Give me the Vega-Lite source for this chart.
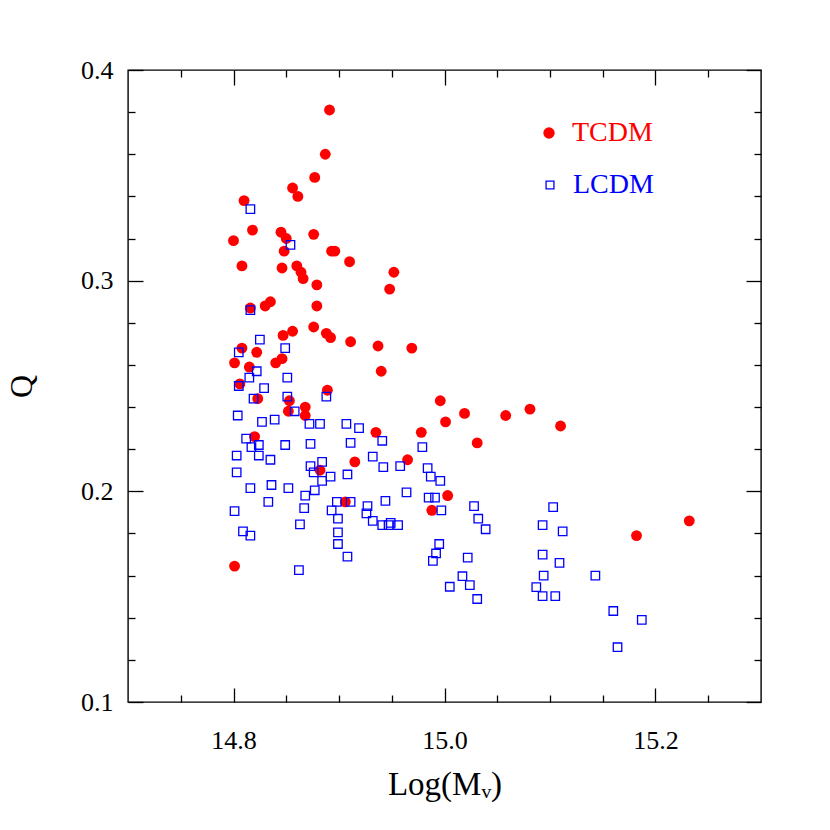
{
  "$schema": "https://vega.github.io/schema/vega-lite/v6.json",
  "width": 633,
  "height": 632,
  "autosize": "none",
  "padding": {"left": 128, "top": 70, "right": 69, "bottom": 128},
  "background": "white",
  "config": {
    "view": {"stroke": "black", "strokeWidth": 1.4},
    "axis": {"domain": false, "grid": false, "tickColor": "black", "tickWidth": 1.3, "labelFont": "Liberation Serif", "labelFontSize": 26, "labelColor": "black", "titleFont": "Liberation Serif", "titleColor": "black", "titleFontWeight": "normal"},
    "legend": {"orient": "none", "title": null, "labelFont": "Liberation Serif", "labelFontSize": 28, "labelOffset": 9, "symbolStrokeWidth": 1.3}
  },
  "data": {"values": [
    {"m": 14.891, "q": 0.381, "model": "TCDM"},
    {"m": 14.887, "q": 0.360, "model": "TCDM"},
    {"m": 14.877, "q": 0.349, "model": "TCDM"},
    {"m": 14.856, "q": 0.344, "model": "TCDM"},
    {"m": 14.861, "q": 0.340, "model": "TCDM"},
    {"m": 14.810, "q": 0.338, "model": "TCDM"},
    {"m": 14.818, "q": 0.324, "model": "TCDM"},
    {"m": 14.845, "q": 0.323, "model": "TCDM"},
    {"m": 14.850, "q": 0.320, "model": "TCDM"},
    {"m": 14.876, "q": 0.322, "model": "TCDM"},
    {"m": 14.800, "q": 0.319, "model": "TCDM"},
    {"m": 14.848, "q": 0.314, "model": "TCDM"},
    {"m": 14.893, "q": 0.314, "model": "TCDM"},
    {"m": 14.896, "q": 0.314, "model": "TCDM"},
    {"m": 14.910, "q": 0.309, "model": "TCDM"},
    {"m": 14.808, "q": 0.307, "model": "TCDM"},
    {"m": 14.846, "q": 0.306, "model": "TCDM"},
    {"m": 14.860, "q": 0.307, "model": "TCDM"},
    {"m": 14.864, "q": 0.304, "model": "TCDM"},
    {"m": 14.866, "q": 0.301, "model": "TCDM"},
    {"m": 14.879, "q": 0.298, "model": "TCDM"},
    {"m": 14.952, "q": 0.304, "model": "TCDM"},
    {"m": 14.948, "q": 0.296, "model": "TCDM"},
    {"m": 14.816, "q": 0.287, "model": "TCDM"},
    {"m": 14.830, "q": 0.288, "model": "TCDM"},
    {"m": 14.835, "q": 0.290, "model": "TCDM"},
    {"m": 14.879, "q": 0.288, "model": "TCDM"},
    {"m": 14.876, "q": 0.278, "model": "TCDM"},
    {"m": 14.888, "q": 0.275, "model": "TCDM"},
    {"m": 14.892, "q": 0.273, "model": "TCDM"},
    {"m": 14.911, "q": 0.271, "model": "TCDM"},
    {"m": 14.847, "q": 0.274, "model": "TCDM"},
    {"m": 14.856, "q": 0.276, "model": "TCDM"},
    {"m": 14.808, "q": 0.268, "model": "TCDM"},
    {"m": 14.822, "q": 0.266, "model": "TCDM"},
    {"m": 14.801, "q": 0.261, "model": "TCDM"},
    {"m": 14.815, "q": 0.259, "model": "TCDM"},
    {"m": 14.840, "q": 0.261, "model": "TCDM"},
    {"m": 14.846, "q": 0.263, "model": "TCDM"},
    {"m": 14.806, "q": 0.251, "model": "TCDM"},
    {"m": 14.889, "q": 0.248, "model": "TCDM"},
    {"m": 14.823, "q": 0.244, "model": "TCDM"},
    {"m": 14.853, "q": 0.243, "model": "TCDM"},
    {"m": 14.868, "q": 0.240, "model": "TCDM"},
    {"m": 14.852, "q": 0.238, "model": "TCDM"},
    {"m": 14.868, "q": 0.236, "model": "TCDM"},
    {"m": 14.820, "q": 0.226, "model": "TCDM"},
    {"m": 14.882, "q": 0.210, "model": "TCDM"},
    {"m": 14.906, "q": 0.195, "model": "TCDM"},
    {"m": 14.801, "q": 0.1645, "model": "TCDM"},
    {"m": 14.937, "q": 0.269, "model": "TCDM"},
    {"m": 14.969, "q": 0.268, "model": "TCDM"},
    {"m": 14.940, "q": 0.257, "model": "TCDM"},
    {"m": 14.996, "q": 0.243, "model": "TCDM"},
    {"m": 15.019, "q": 0.237, "model": "TCDM"},
    {"m": 15.058, "q": 0.236, "model": "TCDM"},
    {"m": 15.081, "q": 0.239, "model": "TCDM"},
    {"m": 15.110, "q": 0.231, "model": "TCDM"},
    {"m": 15.001, "q": 0.233, "model": "TCDM"},
    {"m": 14.935, "q": 0.228, "model": "TCDM"},
    {"m": 14.978, "q": 0.228, "model": "TCDM"},
    {"m": 15.031, "q": 0.223, "model": "TCDM"},
    {"m": 14.915, "q": 0.214, "model": "TCDM"},
    {"m": 14.965, "q": 0.215, "model": "TCDM"},
    {"m": 15.003, "q": 0.198, "model": "TCDM"},
    {"m": 14.988, "q": 0.191, "model": "TCDM"},
    {"m": 15.182, "q": 0.179, "model": "TCDM"},
    {"m": 15.232, "q": 0.186, "model": "TCDM"},
    {"m": 14.816, "q": 0.334, "model": "LCDM"},
    {"m": 14.854, "q": 0.317, "model": "LCDM"},
    {"m": 14.816, "q": 0.286, "model": "LCDM"},
    {"m": 14.825, "q": 0.272, "model": "LCDM"},
    {"m": 14.849, "q": 0.268, "model": "LCDM"},
    {"m": 14.805, "q": 0.266, "model": "LCDM"},
    {"m": 14.822, "q": 0.257, "model": "LCDM"},
    {"m": 14.815, "q": 0.254, "model": "LCDM"},
    {"m": 14.851, "q": 0.254, "model": "LCDM"},
    {"m": 14.805, "q": 0.250, "model": "LCDM"},
    {"m": 14.829, "q": 0.249, "model": "LCDM"},
    {"m": 14.819, "q": 0.244, "model": "LCDM"},
    {"m": 14.851, "q": 0.245, "model": "LCDM"},
    {"m": 14.888, "q": 0.245, "model": "LCDM"},
    {"m": 14.858, "q": 0.238, "model": "LCDM"},
    {"m": 14.804, "q": 0.236, "model": "LCDM"},
    {"m": 14.839, "q": 0.234, "model": "LCDM"},
    {"m": 14.827, "q": 0.233, "model": "LCDM"},
    {"m": 14.872, "q": 0.232, "model": "LCDM"},
    {"m": 14.882, "q": 0.232, "model": "LCDM"},
    {"m": 14.907, "q": 0.232, "model": "LCDM"},
    {"m": 14.812, "q": 0.225, "model": "LCDM"},
    {"m": 14.824, "q": 0.222, "model": "LCDM"},
    {"m": 14.817, "q": 0.221, "model": "LCDM"},
    {"m": 14.824, "q": 0.217, "model": "LCDM"},
    {"m": 14.803, "q": 0.217, "model": "LCDM"},
    {"m": 14.849, "q": 0.222, "model": "LCDM"},
    {"m": 14.873, "q": 0.2225, "model": "LCDM"},
    {"m": 14.911, "q": 0.223, "model": "LCDM"},
    {"m": 14.835, "q": 0.215, "model": "LCDM"},
    {"m": 14.884, "q": 0.214, "model": "LCDM"},
    {"m": 14.873, "q": 0.212, "model": "LCDM"},
    {"m": 14.876, "q": 0.209, "model": "LCDM"},
    {"m": 14.803, "q": 0.209, "model": "LCDM"},
    {"m": 14.892, "q": 0.207, "model": "LCDM"},
    {"m": 14.908, "q": 0.208, "model": "LCDM"},
    {"m": 14.884, "q": 0.205, "model": "LCDM"},
    {"m": 14.877, "q": 0.2005, "model": "LCDM"},
    {"m": 14.816, "q": 0.2015, "model": "LCDM"},
    {"m": 14.836, "q": 0.203, "model": "LCDM"},
    {"m": 14.852, "q": 0.2015, "model": "LCDM"},
    {"m": 14.868, "q": 0.198, "model": "LCDM"},
    {"m": 14.833, "q": 0.195, "model": "LCDM"},
    {"m": 14.801, "q": 0.1906, "model": "LCDM"},
    {"m": 14.867, "q": 0.192, "model": "LCDM"},
    {"m": 14.893, "q": 0.191, "model": "LCDM"},
    {"m": 14.898, "q": 0.195, "model": "LCDM"},
    {"m": 14.899, "q": 0.187, "model": "LCDM"},
    {"m": 14.863, "q": 0.1843, "model": "LCDM"},
    {"m": 14.809, "q": 0.181, "model": "LCDM"},
    {"m": 14.816, "q": 0.179, "model": "LCDM"},
    {"m": 14.899, "q": 0.1805, "model": "LCDM"},
    {"m": 14.899, "q": 0.175, "model": "LCDM"},
    {"m": 14.908, "q": 0.169, "model": "LCDM"},
    {"m": 14.862, "q": 0.1626, "model": "LCDM"},
    {"m": 14.919, "q": 0.230, "model": "LCDM"},
    {"m": 14.941, "q": 0.224, "model": "LCDM"},
    {"m": 14.932, "q": 0.2165, "model": "LCDM"},
    {"m": 14.979, "q": 0.221, "model": "LCDM"},
    {"m": 14.942, "q": 0.2115, "model": "LCDM"},
    {"m": 14.958, "q": 0.212, "model": "LCDM"},
    {"m": 14.984, "q": 0.211, "model": "LCDM"},
    {"m": 14.987, "q": 0.207, "model": "LCDM"},
    {"m": 14.996, "q": 0.205, "model": "LCDM"},
    {"m": 14.964, "q": 0.1995, "model": "LCDM"},
    {"m": 14.911, "q": 0.195, "model": "LCDM"},
    {"m": 14.944, "q": 0.1955, "model": "LCDM"},
    {"m": 14.985, "q": 0.197, "model": "LCDM"},
    {"m": 14.991, "q": 0.197, "model": "LCDM"},
    {"m": 14.927, "q": 0.193, "model": "LCDM"},
    {"m": 14.926, "q": 0.1895, "model": "LCDM"},
    {"m": 14.997, "q": 0.191, "model": "LCDM"},
    {"m": 15.028, "q": 0.193, "model": "LCDM"},
    {"m": 15.103, "q": 0.1925, "model": "LCDM"},
    {"m": 15.032, "q": 0.187, "model": "LCDM"},
    {"m": 14.932, "q": 0.186, "model": "LCDM"},
    {"m": 14.941, "q": 0.184, "model": "LCDM"},
    {"m": 14.949, "q": 0.185, "model": "LCDM"},
    {"m": 14.947, "q": 0.184, "model": "LCDM"},
    {"m": 14.956, "q": 0.184, "model": "LCDM"},
    {"m": 15.039, "q": 0.182, "model": "LCDM"},
    {"m": 15.093, "q": 0.184, "model": "LCDM"},
    {"m": 15.112, "q": 0.181, "model": "LCDM"},
    {"m": 14.995, "q": 0.175, "model": "LCDM"},
    {"m": 14.992, "q": 0.1705, "model": "LCDM"},
    {"m": 14.989, "q": 0.167, "model": "LCDM"},
    {"m": 15.022, "q": 0.1685, "model": "LCDM"},
    {"m": 15.017, "q": 0.1597, "model": "LCDM"},
    {"m": 15.024, "q": 0.1555, "model": "LCDM"},
    {"m": 15.005, "q": 0.1547, "model": "LCDM"},
    {"m": 15.031, "q": 0.1489, "model": "LCDM"},
    {"m": 15.093, "q": 0.170, "model": "LCDM"},
    {"m": 15.109, "q": 0.166, "model": "LCDM"},
    {"m": 15.094, "q": 0.160, "model": "LCDM"},
    {"m": 15.087, "q": 0.1545, "model": "LCDM"},
    {"m": 15.093, "q": 0.1503, "model": "LCDM"},
    {"m": 15.105, "q": 0.1503, "model": "LCDM"},
    {"m": 15.143, "q": 0.160, "model": "LCDM"},
    {"m": 15.160, "q": 0.1432, "model": "LCDM"},
    {"m": 15.187, "q": 0.139, "model": "LCDM"},
    {"m": 15.164, "q": 0.126, "model": "LCDM"}
  ]},
  "resolve": {"axis": {"x": "independent", "y": "independent"}, "scale": {"fill": "independent", "stroke": "independent"}, "legend": {"fill": "independent", "stroke": "independent"}},
  "layer": [
    {
      "transform": [{"filter": "datum.model == 'TCDM'"}],
      "mark": {"type": "point", "shape": "circle", "filled": true, "size": 118, "opacity": 1, "strokeWidth": 0},
      "encoding": {
        "x": {"field": "m", "type": "quantitative", "scale": {"domain": [14.7, 15.3], "nice": false, "zero": false},
              "axis": {"orient": "bottom", "values": [14.8, 15, 15.2], "tickSize": -14, "labelPadding": 39, "labelFlush": false, "title": "Log(Mᵥ)", "titleFontSize": 33, "titlePadding": 15}},
        "y": {"field": "q", "type": "quantitative", "scale": {"domain": [0.1, 0.4], "nice": false, "zero": false},
              "axis": {"orient": "left", "values": [0.1, 0.2, 0.3, 0.4], "format": ".1f", "tickSize": -15, "labelPadding": 30, "labelFlush": false, "title": "Q", "titleFontSize": 32, "titlePadding": 42}},
        "fill": {"field": "model", "type": "nominal", "scale": {"domain": ["TCDM"], "range": ["#ff0000"]},
                 "legend": {"legendX": 407, "legendY": 49, "labelColor": "#ff0000", "symbolType": "circle", "symbolSize": 130, "symbolStrokeWidth": 0}}
      }
    },
    {
      "transform": [{"filter": "datum.model == 'LCDM'"}],
      "mark": {"type": "point", "shape": "square", "filled": false, "size": 72, "opacity": 1, "strokeWidth": 1.3},
      "encoding": {
        "x": {"field": "m", "type": "quantitative", "scale": {"domain": [14.7, 15.3], "nice": false, "zero": false},
              "axis": {"orient": "bottom", "values": [14.75, 14.85, 14.9, 14.95, 15.05, 15.1, 15.15, 15.25], "tickSize": -7, "labels": false, "title": null}},
        "y": {"field": "q", "type": "quantitative", "scale": {"domain": [0.1, 0.4], "nice": false, "zero": false},
              "axis": {"orient": "left", "values": [0.12, 0.14, 0.16, 0.18, 0.22, 0.24, 0.26, 0.28, 0.32, 0.34, 0.36, 0.38], "tickSize": -7, "labels": false, "title": null}},
        "stroke": {"field": "model", "type": "nominal", "scale": {"domain": ["LCDM"], "range": ["#0000ff"]},
                   "legend": {"legendX": 408, "legendY": 101, "labelColor": "#0000ff", "symbolType": "square", "symbolSize": 62, "symbolStrokeWidth": 1.3, "symbolFillColor": "transparent"}}
      }
    },
    {
      "mark": {"type": "point", "opacity": 0},
      "encoding": {
        "x": {"field": "m", "type": "quantitative", "scale": {"domain": [14.7, 15.3], "nice": false, "zero": false},
              "axis": {"orient": "top", "values": [14.8, 15, 15.2], "tickSize": -15, "labels": false, "title": null}},
        "y": {"field": "q", "type": "quantitative", "scale": {"domain": [0.1, 0.4], "nice": false, "zero": false},
              "axis": {"orient": "right", "values": [0.1, 0.2, 0.3, 0.4], "tickSize": -15, "labels": false, "title": null}}
      }
    },
    {
      "mark": {"type": "point", "opacity": 0},
      "encoding": {
        "x": {"field": "m", "type": "quantitative", "scale": {"domain": [14.7, 15.3], "nice": false, "zero": false},
              "axis": {"orient": "top", "values": [14.75, 14.85, 14.9, 14.95, 15.05, 15.1, 15.15, 15.25], "tickSize": -7, "labels": false, "title": null}},
        "y": {"field": "q", "type": "quantitative", "scale": {"domain": [0.1, 0.4], "nice": false, "zero": false},
              "axis": {"orient": "right", "values": [0.12, 0.14, 0.16, 0.18, 0.22, 0.24, 0.26, 0.28, 0.32, 0.34, 0.36, 0.38], "tickSize": -7, "labels": false, "title": null}}
      }
    }
  ]
}
